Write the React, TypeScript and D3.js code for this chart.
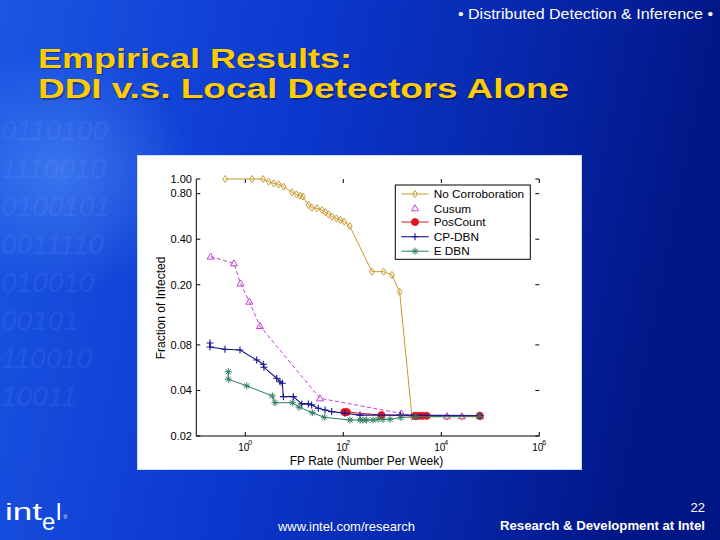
import React from "react";
import * as d3 from "d3";

// ---- data ----
const xTickValues = [1, 100, 10000, 1000000];
const xTickExponents = ["0", "2", "4", "6"];
const yTickValues = [1.0, 0.8, 0.4, 0.2, 0.08, 0.04, 0.02];
const yTickLabels = ["1.00", "0.80", "0.40", "0.20", "0.08", "0.04", "0.02"];

const seriesNames = ["No Corroboration", "Cusum", "PosCount", "CP-DBN", "E DBN"];

const noCorrX = [0.39, 1.37, 2.3, 3.0, 3.8, 4.8, 6.05, 8.95, 11, 13.2, 15, 19.6, 22.9, 29, 36.7, 43, 50, 58.7, 72, 87, 105, 135, 385, 665, 985, 1410, 2520, 3090, 13060, 26300, 62500];
const noCorrY = [1.0, 1.0, 1.0, 0.96, 0.936, 0.922, 0.89, 0.816, 0.792, 0.776, 0.764, 0.673, 0.646, 0.64, 0.624, 0.602, 0.584, 0.563, 0.549, 0.536, 0.522, 0.489, 0.244, 0.244, 0.232, 0.18, 0.0268, 0.0268, 0.0268, 0.0268, 0.0268];

const cusumX = [0.196, 0.587, 0.8, 1.21, 1.99, 33.4, 1528, 3000, 13060, 26300, 62500];
const cusumY = [0.307, 0.277, 0.204, 0.1545, 0.1067, 0.0355, 0.0282, 0.027, 0.027, 0.027, 0.027];

const posX = [105, 118, 600, 2900, 3400, 4100, 5000, 61000];
const posY = [0.0288, 0.0288, 0.0275, 0.0272, 0.0272, 0.0272, 0.0272, 0.0272];

const cpX = [0.19, 0.19, 0.385, 0.78, 1.71, 2.33, 2.4, 4.37, 5.1, 5.69, 5.97, 9.55, 14.2, 19.3, 22.6, 30.9, 42.4, 58, 108, 219, 1450, 61000];
const cpY = [0.0824, 0.0776, 0.0749, 0.0741, 0.0636, 0.0596, 0.0569, 0.0482, 0.0457, 0.0446, 0.0364, 0.0364, 0.0326, 0.0326, 0.0321, 0.0305, 0.0297, 0.029, 0.0283, 0.0275, 0.0275, 0.0273];

const edbnX = [0.45, 0.45, 1.07, 3.56, 4.03, 9.1, 12.5, 23.3, 40.9, 137, 220, 252, 300, 404, 511, 646, 898, 1500, 3000, 61000];
const edbnY = [0.0532, 0.0475, 0.0429, 0.0368, 0.0332, 0.0332, 0.031, 0.0285, 0.0266, 0.0255, 0.0255, 0.0255, 0.0255, 0.0255, 0.0258, 0.0258, 0.0258, 0.0265, 0.0268, 0.027];

const binaryRows = ["0110100", "1110010", "0100101", "0011110", "010010", "00101", "110010", "10011"];

const FONT = "'Liberation Sans', Arial, Helvetica, sans-serif";

type MarkerType = "diamond" | "triangle" | "circle" | "plus" | "star";

function Marker({ type, x, y, color }: { type: MarkerType; x: number; y: number; color: string }) {
  if (type === "diamond")
    return <path d={`M${x},${y - 3.5}L${x + 2.5},${y}L${x},${y + 3.5}L${x - 2.5},${y}Z`} fill="none" stroke={color} strokeWidth={1} />;
  if (type === "triangle")
    return <path d={`M${x},${y - 3.5}L${x + 3.5},${y + 2.5}L${x - 3.5},${y + 2.5}Z`} fill="none" stroke={color} strokeWidth={1} />;
  if (type === "circle") return <circle cx={x} cy={y} r={3.6} fill={color} stroke={color} strokeWidth={0.8} />;
  if (type === "plus")
    return <path d={`M${x - 3.5},${y}H${x + 3.5}M${x},${y - 3.5}V${y + 3.5}`} stroke={color} strokeWidth={1.1} />;
  return (
    <path
      d={`M${x - 3.5},${y}H${x + 3.5}M${x},${y - 3.5}V${y + 3.5}M${x - 2.5},${y - 2.5}L${x + 2.5},${y + 2.5}M${x - 2.5},${y + 2.5}L${x + 2.5},${y - 2.5}`}
      stroke={color}
      strokeWidth={1}
    />
  );
}

export default function App() {
  const W = 720;
  const H = 540;
  const left = 196.3, right = 539.3, top = 179, bottom = 436;

  const x = d3.scaleLog().domain([0.1, 1e6]).range([left, right]);
  const y = d3.scaleLog().domain([0.02, 1]).range([bottom, top]);

  const series = [
    { name: seriesNames[0], xs: noCorrX, ys: noCorrY, color: "#c99a2e", marker: "diamond" as MarkerType, dash: "", lw: 1 },
    { name: seriesNames[1], xs: cusumX, ys: cusumY, color: "#c63fdc", marker: "triangle" as MarkerType, dash: "4,2.5", lw: 1 },
    { name: seriesNames[2], xs: posX, ys: posY, color: "#e0141e", marker: "circle" as MarkerType, dash: "", lw: 1 },
    { name: seriesNames[3], xs: cpX, ys: cpY, color: "#14148c", marker: "plus" as MarkerType, dash: "", lw: 1.1 },
    { name: seriesNames[4], xs: edbnX, ys: edbnY, color: "#2e7d62", marker: "star" as MarkerType, dash: "", lw: 1 },
  ];

  const lineGen = d3
    .line<[number, number]>()
    .x((d) => x(d[0]))
    .y((d) => y(d[1]));

  // legend geometry
  const lgX0 = 395.3, lgY0 = 185, lgX1 = 530.3, lgY1 = 259.3;
  const lgRows = [194, 208.3, 222, 236.7, 251.2];

  return (
    <svg width={W} height={H} style={{ position: "fixed", left: 0, top: 0 }} fontFamily={FONT}>
      <defs>
        <linearGradient id="bg" x1="0" y1="0" x2="1" y2="0.15">
          <stop offset="0" stopColor="#1b56e4" />
          <stop offset="0.45" stopColor="#0b37cc" />
          <stop offset="0.75" stopColor="#0626a8" />
          <stop offset="1" stopColor="#011685" />
        </linearGradient>
        <radialGradient id="glow" cx="0.5" cy="0.5" r="0.5">
          <stop offset="0" stopColor="#5f9dff" stopOpacity="0.5" />
          <stop offset="1" stopColor="#5f9dff" stopOpacity="0" />
        </radialGradient>
      </defs>
      <rect x={0} y={0} width={W} height={H} fill="url(#bg)" />
      <ellipse cx={60} cy={170} rx={130} ry={120} fill="url(#glow)" />
      {binaryRows.map((r, i) => (
        <text key={i} x={1} y={140 + i * 38} fontSize={28} fill="#8fb6ff" opacity={0.1} fontStyle="italic">
          {r}
        </text>
      ))}

      {/* header */}
      <text x={713} y={19} fontSize={15} fill="#ffffff" textAnchor="end" textLength={255} lengthAdjust="spacingAndGlyphs">
        • Distributed Detection &amp; Inference •
      </text>
      <text x={38} y={67.7} fontSize={27} fontWeight="bold" fill="#000000" opacity={0.3} textLength={314} lengthAdjust="spacingAndGlyphs" transform="translate(1.5,1.5)">
        Empirical Results:
      </text>
      <text x={38} y={98.3} fontSize={27} fontWeight="bold" fill="#000000" opacity={0.3} textLength={531} lengthAdjust="spacingAndGlyphs" transform="translate(1.5,1.5)">
        DDI v.s. Local Detectors Alone
      </text>
      <text x={38} y={67.7} fontSize={27} fontWeight="bold" fill="#ffcc00" textLength={314} lengthAdjust="spacingAndGlyphs">
        Empirical Results:
      </text>
      <text x={38} y={98.3} fontSize={27} fontWeight="bold" fill="#ffcc00" textLength={531} lengthAdjust="spacingAndGlyphs">
        DDI v.s. Local Detectors Alone
      </text>

      {/* chart panel */}
      <rect x={137.5} y={155.5} width={444} height={314} fill="#ffffff" stroke="#c8dcff" strokeWidth={1} />

      {/* axes */}
      <line x1={left} y1={top} x2={left} y2={bottom} stroke="#000" strokeWidth={1} />
      <line x1={left} y1={bottom} x2={right} y2={bottom} stroke="#000" strokeWidth={1} />
      {yTickValues.map((v, i) => (
        <g key={"yt" + i}>
          <line x1={left} x2={left + 4} y1={y(v)} y2={y(v)} stroke="#000" />
          <line x1={right - 4} x2={right} y1={y(v)} y2={y(v)} stroke="#000" />
          <text x={192} y={y(v) + 3.8} fontSize={11} textAnchor="end" fill="#000">
            {yTickLabels[i]}
          </text>
        </g>
      ))}
      {xTickValues.map((v, i) => (
        <g key={"xt" + i}>
          <line x1={x(v)} x2={x(v)} y1={bottom} y2={bottom - 4} stroke="#000" />
          <line x1={x(v)} x2={x(v)} y1={top} y2={top + 4} stroke="#000" />
          <text x={x(v) - 1.5} y={450.7} fontSize={10} textAnchor="middle" fill="#000">
            10
          </text>
          <text x={x(v) + 5} y={445} fontSize={7} textAnchor="middle" fill="#000">
            {xTickExponents[i]}
          </text>
        </g>
      ))}
      <text x={366.5} y={464.5} fontSize={12} textAnchor="middle" fill="#000">
        FP Rate (Number Per Week)
      </text>
      <text transform="translate(164.5,308) rotate(-90)" fontSize={12} textAnchor="middle" fill="#000">
        Fraction of Infected
      </text>

      {/* series */}
      {series.map((s, si) => {
        const pts: [number, number][] = s.xs.map((xv, i) => [xv, s.ys[i]]);
        return (
          <g key={"s" + si}>
            <path d={lineGen(pts) || ""} fill="none" stroke={s.color} strokeWidth={s.lw} strokeDasharray={s.dash || undefined} />
            {pts.map((p, i) => (
              <Marker key={i} type={s.marker} x={x(p[0])} y={y(p[1])} color={s.color} />
            ))}
          </g>
        );
      })}

      {/* legend */}
      <rect x={lgX0} y={lgY0} width={lgX1 - lgX0} height={lgY1 - lgY0} fill="#ffffff" stroke="#000" strokeWidth={1} />
      {series.map((s, i) => (
        <g key={"lg" + i}>
          {s.dash === "" && <line x1={401.3} x2={428.7} y1={lgRows[i]} y2={lgRows[i]} stroke={s.color} strokeWidth={s.lw} />}
          <Marker type={s.marker} x={415} y={lgRows[i]} color={s.color} />
          <text x={433.7} y={lgRows[i] + 4.2} fontSize={11.8} fill="#000">
            {s.name}
          </text>
        </g>
      ))}

      {/* footer */}
      <text x={5} y={519.5} fontSize={24} fill="#ffffff" textLength={37} lengthAdjust="spacingAndGlyphs">
        int
      </text>
      <text x={42} y={530} fontSize={24} fill="#ffffff">
        e
      </text>
      <text x={56} y={519.5} fontSize={24} fill="#ffffff">
        l
      </text>
      <text x={63.5} y={519} fontSize={5} fill="#ffffff">
        ®
      </text>
      <text x={278} y={531} fontSize={13} fill="#ffffff" textLength={137} lengthAdjust="spacingAndGlyphs">
        www.intel.com/research
      </text>
      <text x={705} y={530} fontSize={12} fontWeight="bold" fill="#ffffff" textAnchor="end" textLength={205} lengthAdjust="spacingAndGlyphs">
        Research &amp; Development at Intel
      </text>
      <text x={705} y={512} fontSize={13} fill="#ffffff" textAnchor="end">
        22
      </text>
    </svg>
  );
}
